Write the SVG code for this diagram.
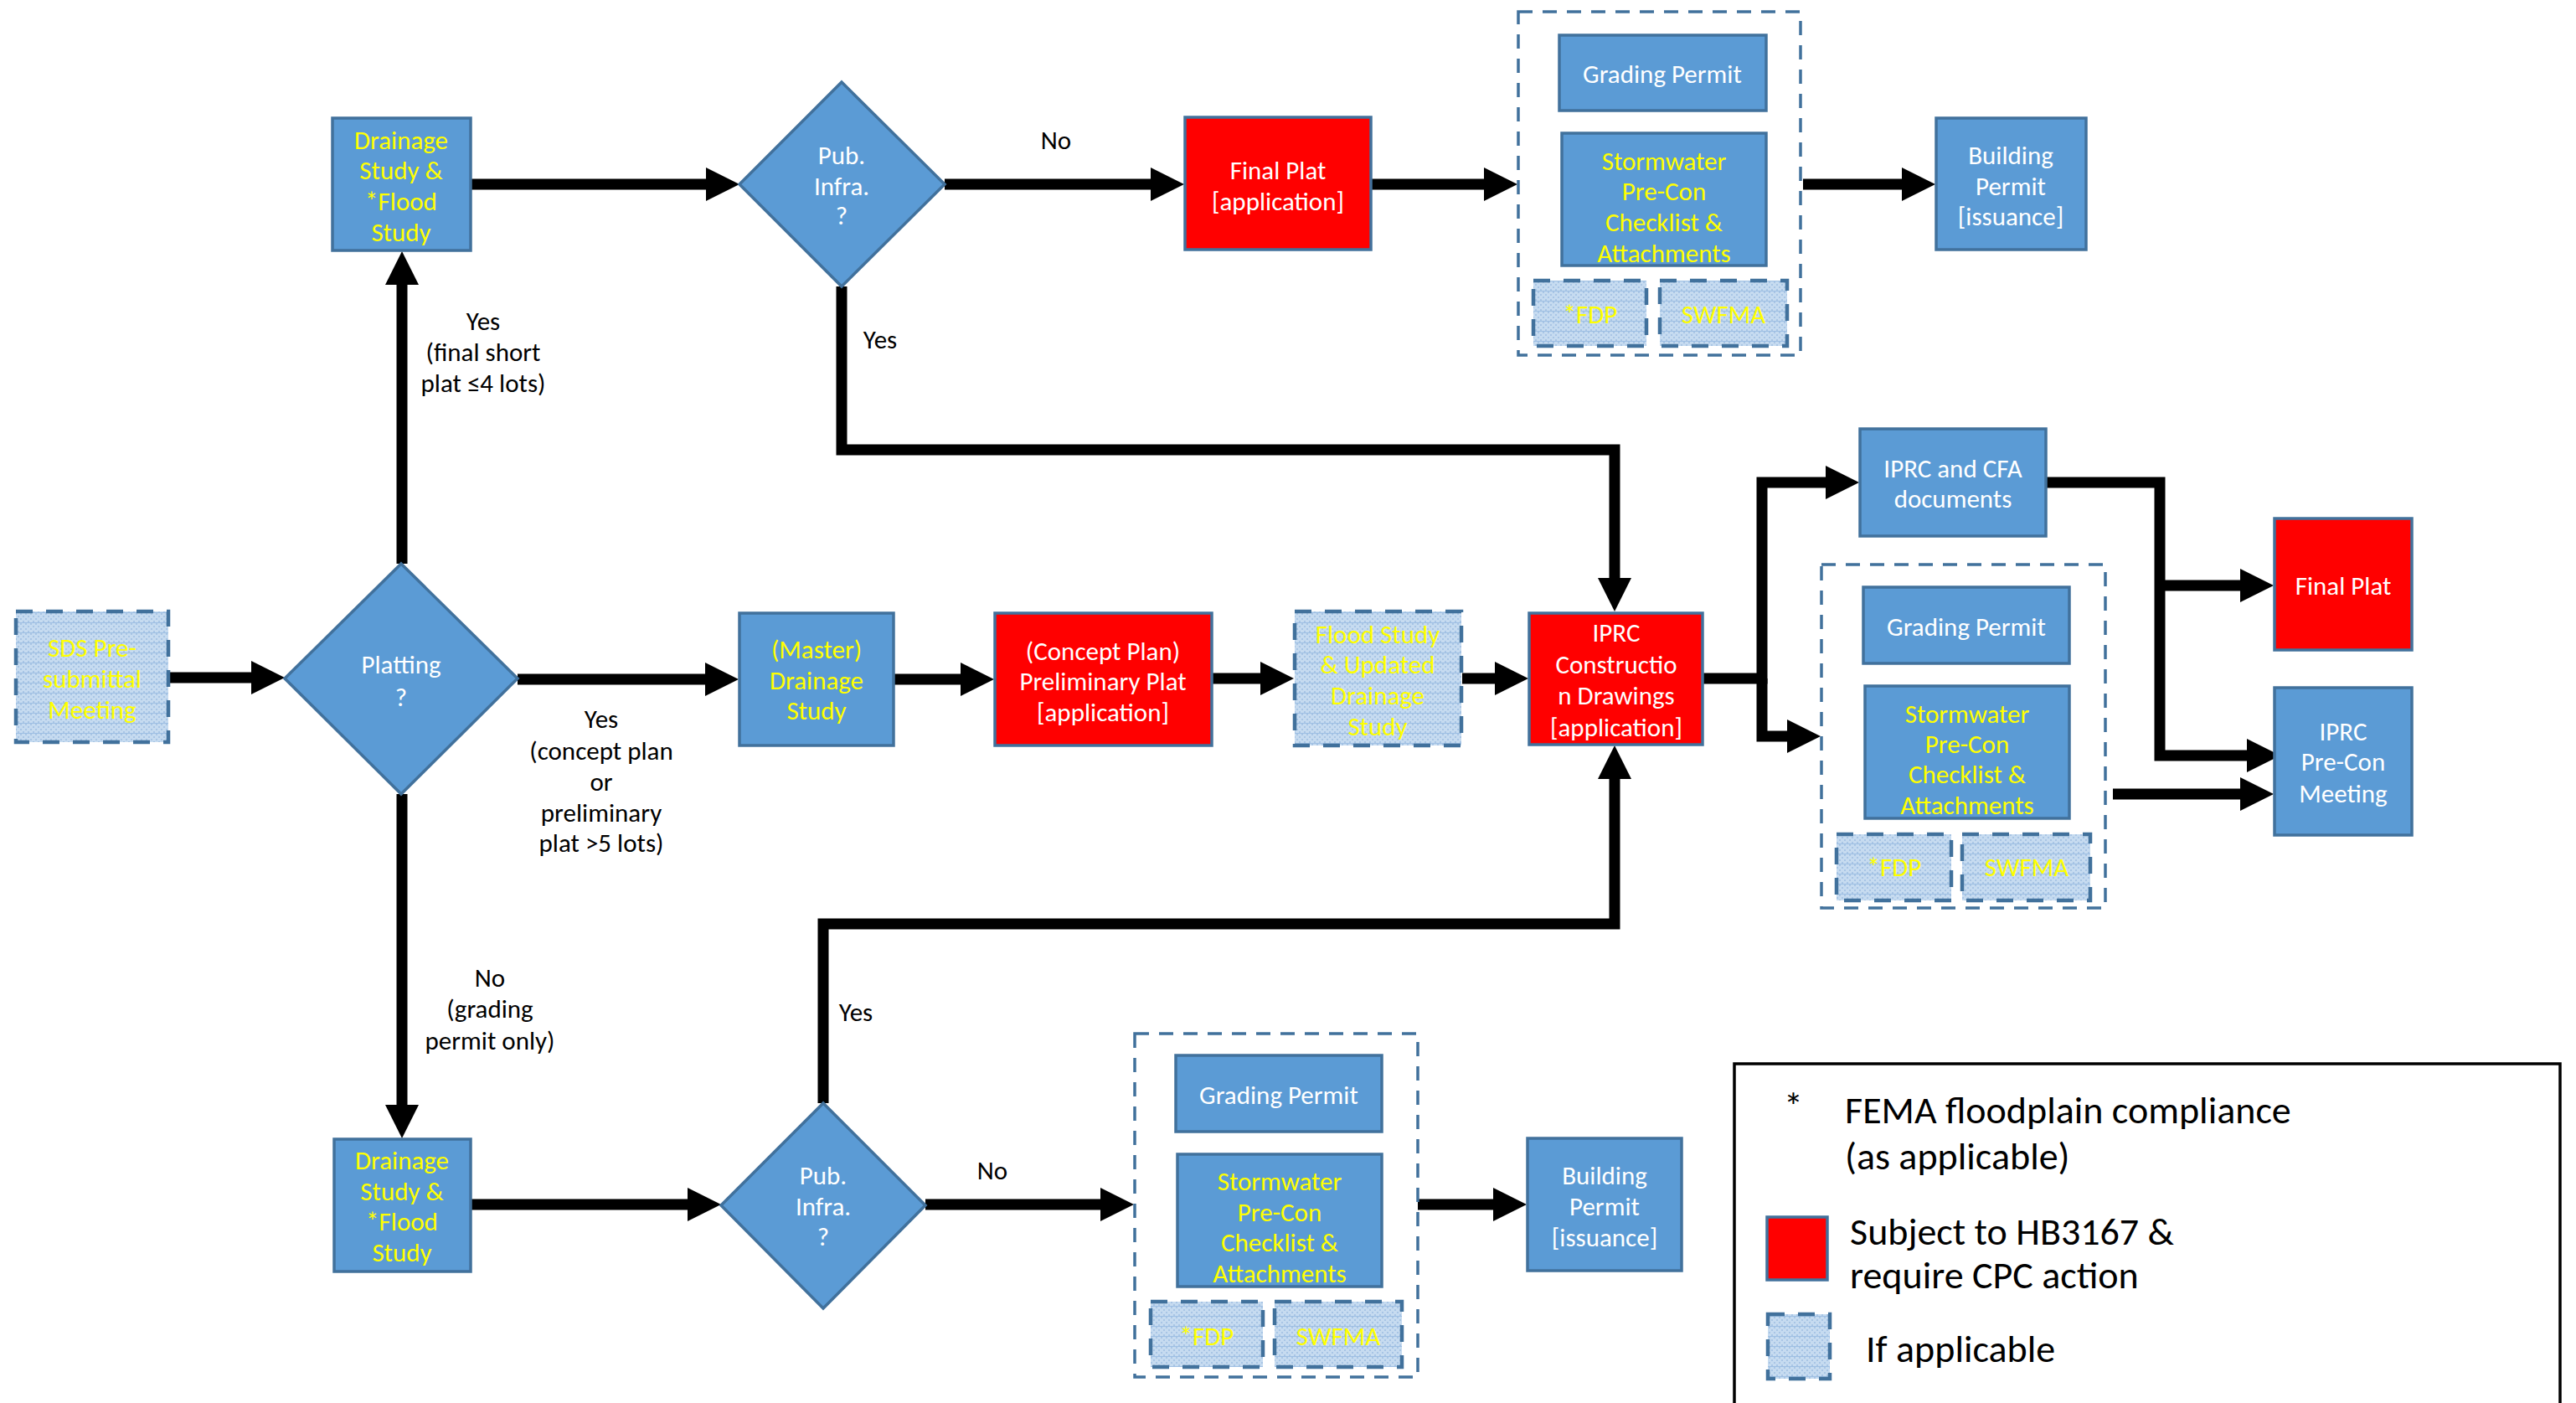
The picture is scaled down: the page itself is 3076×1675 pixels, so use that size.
<svg xmlns="http://www.w3.org/2000/svg" width="3076" height="1675" viewBox="0 0 3076 1675">
<defs>
<style>
text{font-family:Carlito,Lato,"Liberation Sans",sans-serif;text-anchor:middle;dominant-baseline:central}
.n{font-size:31px}
.w{fill:#ffffff}
.y{fill:#ffff00}
.k{fill:#000000;font-size:31px}
.box{fill:#5b9bd5;stroke:#41719c;stroke-width:3.5}
.red{fill:#ff0000;stroke:#41719c;stroke-width:3.5}
.opt{fill:url(#dots);stroke:#41719c;stroke-width:4.5;stroke-dasharray:20 16}
.cont{fill:none;stroke:#41719c;stroke-width:3.5;stroke-dasharray:17 12}
.c{fill:none;stroke:#000;stroke-width:13;marker-end:url(#ah)}
.lg{font-size:46px;text-anchor:start;fill:#000}
</style>
<pattern id="dots" width="6" height="12" patternUnits="userSpaceOnUse">
<rect width="6" height="12" fill="#c6dbf0"/>
<rect x="0" y="0" width="2" height="2" fill="#a8c5e5"/>
<rect x="3" y="3" width="2" height="2" fill="#a8c5e5"/>
<rect x="0" y="6" width="2" height="2" fill="#a8c5e5"/>
<rect x="3" y="9" width="2" height="2" fill="#a8c5e5"/>
<rect x="0" y="11" width="6" height="1" fill="#9ebfe3"/>
</pattern>
<marker id="ah" markerUnits="userSpaceOnUse" markerWidth="40" markerHeight="40" viewBox="0 0 40 40" refX="0" refY="20" orient="auto">
<path d="M0,0 L40,20 L0,40 z" fill="#000"/>
</marker>
</defs>
<rect width="3076" height="1675" fill="#ffffff"/>

<g id="connectors">
<path class="c" d="M202,809 H300"/>
<path class="c" d="M480,673 V340"/>
<path class="c" d="M562,220 H843"/>
<path class="c" d="M1128,220 H1374"/>
<path class="c" d="M1638,220 H1772"/>
<path class="c" d="M2153,220 H2271"/>
<path class="c" d="M1005,342 V537 H1928 V690"/>
<path class="c" d="M618,811 H842"/>
<path class="c" d="M1068,811 H1147"/>
<path class="c" d="M1448,810 H1505"/>
<path class="c" d="M1746,810 H1785"/>
<path class="c" d="M2034,810 H2104 V576 H2180"/>
<path class="c" d="M2104,810 V879 H2134"/>
<path class="c" d="M2443,576 H2579 V902 H2683"/>
<path class="c" d="M2579,699 H2675"/>
<path class="c" d="M2523,948 H2675"/>
<path class="c" d="M480,948 V1319"/>
<path class="c" d="M563,1438 H821"/>
<path class="c" d="M1105,1438 H1314"/>
<path class="c" d="M1693,1438 H1783"/>
<path class="c" d="M983,1317 V1103 H1928 V930"/>
</g>

<g id="edge-labels">
<text class="k" x="577" y="383">Yes</text>
<text class="k" x="577" y="420">(final short</text>
<text class="k" x="577" y="457">plat ≤4 lots)</text>
<text class="k" x="1051" y="405">Yes</text>
<text class="k" x="1261" y="167">No</text>
<text class="k" x="718" y="858">Yes</text>
<text class="k" x="718" y="896">(concept plan</text>
<text class="k" x="718" y="933">or</text>
<text class="k" x="718" y="970">preliminary</text>
<text class="k" x="718" y="1006">plat &gt;5 lots)</text>
<text class="k" x="585" y="1167">No</text>
<text class="k" x="585" y="1204">(grading</text>
<text class="k" x="585" y="1242">permit only)</text>
<text class="k" x="1022" y="1208">Yes</text>
<text class="k" x="1185" y="1397">No</text>
</g>

<g id="sds">
<rect class="opt" x="19" y="730" width="182" height="156"/>
<text class="n y" x="110" y="773">SDS Pre-</text>
<text class="n y" x="110" y="810">submittal</text>
<text class="n y" x="110" y="847">Meeting</text>
</g>

<g id="platting">
<polygon class="box" points="479,673 618,810 479,948 340,810"/>
<text class="n w" x="479" y="793">Platting</text>
<text class="n w" x="479" y="832">?</text>
</g>

<g id="drainage-top">
<rect class="box" x="397" y="141" width="165" height="158"/>
<text class="n y" x="479" y="167">Drainage</text>
<text class="n y" x="479" y="203">Study &amp;</text>
<text class="n y" x="479" y="240">*Flood</text>
<text class="n y" x="479" y="277">Study</text>
</g>

<g id="pubinfra-top">
<polygon class="box" points="1005,98 1128,220 1005,342 883,220"/>
<text class="n w" x="1005" y="185">Pub.</text>
<text class="n w" x="1005" y="222">Infra.</text>
<text class="n w" x="1005" y="257">?</text>
</g>

<g id="finalplat-app">
<rect class="red" x="1415" y="140" width="222" height="158"/>
<text class="n w" x="1526" y="203">Final Plat</text>
<text class="n w" x="1526" y="240">[application]</text>
</g>

<g id="container-top">
<rect class="cont" x="1813" y="14" width="337" height="410"/>
<g id="grading-top">
<rect class="box" x="1862" y="42" width="247" height="90"/>
<text class="n w" x="1985" y="88">Grading Permit</text>
</g>
<g id="stormwater-top">
<rect class="box" x="1865" y="159" width="244" height="158"/>
<text class="n y" x="1987" y="192">Stormwater</text>
<text class="n y" x="1987" y="228">Pre-Con</text>
<text class="n y" x="1987" y="265">Checklist &amp;</text>
<text class="n y" x="1987" y="302">Attachments</text>
</g>
<g id="fdp-top">
<rect class="opt" x="1831" y="335" width="135" height="78"/>
<text class="n y" x="1899" y="375">*FDP</text>
</g>
<g id="swfma-top">
<rect class="opt" x="1982" y="335" width="152" height="78"/>
<text class="n y" x="2058" y="375">SWFMA</text>
</g>
</g>

<g id="building-top">
<rect class="box" x="2312" y="141" width="179" height="157"/>
<text class="n w" x="2401" y="185">Building</text>
<text class="n w" x="2401" y="222">Permit</text>
<text class="n w" x="2401" y="258">[issuance]</text>
</g>

<g id="master-drainage">
<rect class="box" x="883" y="732" width="184" height="158"/>
<text class="n y" x="975" y="775">(Master)</text>
<text class="n y" x="975" y="812">Drainage</text>
<text class="n y" x="975" y="848">Study</text>
</g>

<g id="prelim-plat">
<rect class="red" x="1188" y="732" width="259" height="158"/>
<text class="n w" x="1317" y="777">(Concept Plan)</text>
<text class="n w" x="1317" y="813">Preliminary Plat</text>
<text class="n w" x="1317" y="850">[application]</text>
</g>

<g id="flood-study">
<rect class="opt" x="1546" y="730" width="199" height="160"/>
<text class="n y" x="1645" y="757">Flood Study</text>
<text class="n y" x="1645" y="793">&amp; Updated</text>
<text class="n y" x="1645" y="830">Drainage</text>
<text class="n y" x="1645" y="867">Study</text>
</g>

<g id="iprc-cd">
<rect class="red" x="1826" y="732" width="207" height="157"/>
<text class="n w" x="1930" y="755">IPRC</text>
<text class="n w" x="1930" y="793">Constructio</text>
<text class="n w" x="1930" y="830">n Drawings</text>
<text class="n w" x="1930" y="868">[application]</text>
</g>

<g id="iprc-cfa">
<rect class="box" x="2221" y="512" width="222" height="128"/>
<text class="n w" x="2332" y="559">IPRC and CFA</text>
<text class="n w" x="2332" y="595">documents</text>
</g>

<g id="container-mid">
<rect class="cont" x="2175" y="674" width="339" height="410"/>
<g id="grading-mid">
<rect class="box" x="2225" y="701" width="246" height="91"/>
<text class="n w" x="2348" y="748">Grading Permit</text>
</g>
<g id="stormwater-mid">
<rect class="box" x="2227" y="819" width="244" height="158"/>
<text class="n y" x="2349" y="852">Stormwater</text>
<text class="n y" x="2349" y="888">Pre-Con</text>
<text class="n y" x="2349" y="924">Checklist &amp;</text>
<text class="n y" x="2349" y="961">Attachments</text>
</g>
<g id="fdp-mid">
<rect class="opt" x="2193" y="996" width="137" height="79"/>
<text class="n y" x="2262" y="1035">*FDP</text>
</g>
<g id="swfma-mid">
<rect class="opt" x="2343" y="996" width="153" height="79"/>
<text class="n y" x="2420" y="1035">SWFMA</text>
</g>
</g>

<g id="finalplat">
<rect class="red" x="2716" y="619" width="164" height="157"/>
<text class="n w" x="2798" y="699">Final Plat</text>
</g>

<g id="iprc-precon">
<rect class="box" x="2716" y="821" width="164" height="176"/>
<text class="n w" x="2798" y="873">IPRC</text>
<text class="n w" x="2798" y="909">Pre-Con</text>
<text class="n w" x="2798" y="947">Meeting</text>
</g>

<g id="drainage-bottom">
<rect class="box" x="399" y="1360" width="163" height="158"/>
<text class="n y" x="480" y="1385">Drainage</text>
<text class="n y" x="480" y="1422">Study &amp;</text>
<text class="n y" x="480" y="1458">*Flood</text>
<text class="n y" x="480" y="1495">Study</text>
</g>

<g id="pubinfra-bottom">
<polygon class="box" points="983,1317 1105,1439 983,1562 861,1439"/>
<text class="n w" x="983" y="1403">Pub.</text>
<text class="n w" x="983" y="1440">Infra.</text>
<text class="n w" x="983" y="1476">?</text>
</g>

<g id="container-bottom">
<rect class="cont" x="1355" y="1234" width="338" height="410"/>
<g id="grading-bottom">
<rect class="box" x="1404" y="1260" width="246" height="91"/>
<text class="n w" x="1527" y="1307">Grading Permit</text>
</g>
<g id="stormwater-bottom">
<rect class="box" x="1406" y="1378" width="244" height="158"/>
<text class="n y" x="1528" y="1410">Stormwater</text>
<text class="n y" x="1528" y="1447">Pre-Con</text>
<text class="n y" x="1528" y="1483">Checklist &amp;</text>
<text class="n y" x="1528" y="1520">Attachments</text>
</g>
<g id="fdp-bottom">
<rect class="opt" x="1374" y="1554" width="134" height="78"/>
<text class="n y" x="1441" y="1595">*FDP</text>
</g>
<g id="swfma-bottom">
<rect class="opt" x="1522" y="1554" width="152" height="78"/>
<text class="n y" x="1598" y="1595">SWFMA</text>
</g>
</g>

<g id="building-bottom">
<rect class="box" x="1824" y="1359" width="184" height="158"/>
<text class="n w" x="1916" y="1403">Building</text>
<text class="n w" x="1916" y="1440">Permit</text>
<text class="n w" x="1916" y="1477">[issuance]</text>
</g>

<g id="legend">
<rect x="2071" y="1270" width="986" height="430" fill="#ffffff" stroke="#000" stroke-width="3.5"/>
<text class="lg" x="2130" y="1320">*</text>
<text class="lg" x="2203" y="1325">FEMA floodplain compliance</text>
<text class="lg" x="2203" y="1380">(as applicable)</text>
<rect class="red" x="2110" y="1453" width="72" height="75"/>
<text class="lg" x="2209" y="1470">Subject to HB3167 &amp;</text>
<text class="lg" x="2209" y="1522">require CPC action</text>
<rect class="opt" x="2111" y="1569" width="74" height="77"/>
<text class="lg" x="2228" y="1610">If applicable</text>
</g>
</svg>
